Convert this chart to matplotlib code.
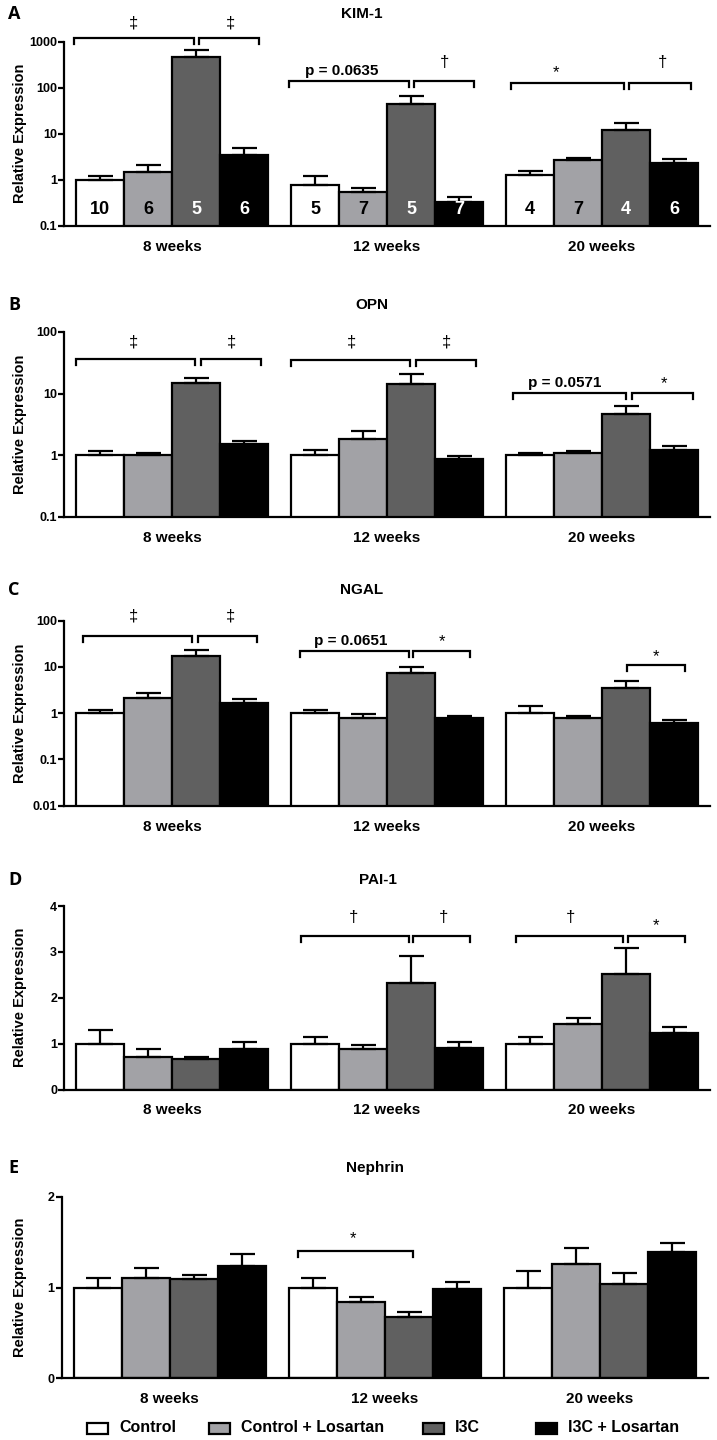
import matplotlib
matplotlib.use('Agg')
import matplotlib.pyplot as plt
import numpy as np
from matplotlib.patches import Rectangle
from matplotlib.ticker import FixedLocator, FixedFormatter, NullLocator

plt.rcParams['font.family'] = ['Liberation Sans', 'DejaVu Sans']

W, H = 717, 1440

groups = ['8 weeks', '12 weeks', '20 weeks']
series = ['Control', 'Control + Losartan', 'I3C', 'I3C + Losartan']
colors = ['#ffffff', '#a2a2a6', '#606060', '#000000']

# ---- data: mean and (mean + error) per group x series ----
kim1_mean = [[1.0, 1.47, 467, 3.5], [0.78, 0.53, 43.5, 0.32], [1.28, 2.62, 12.1, 2.26]]
kim1_top = [[1.18, 2.04, 650, 4.85], [1.22, 0.66, 65.8, 0.42], [1.51, 2.94, 16.9, 2.85]]
kim1_n = [[10, 6, 5, 6], [5, 7, 5, 7], [4, 7, 4, 6]]

opn_mean = [[1.0, 1.0, 15.1, 1.53], [1.0, 1.82, 14.2, 0.88], [1.0, 1.09, 4.62, 1.24]]
opn_top = [[1.16, 1.1, 17.9, 1.71], [1.2, 2.45, 21.0, 0.96], [1.09, 1.17, 6.3, 1.4]]

ngal_mean = [[1.0, 2.15, 17.3, 1.65], [1.0, 0.8, 7.4, 0.77], [1.0, 0.77, 3.55, 0.62]]
ngal_top = [[1.2, 2.77, 23.0, 1.98], [1.2, 0.94, 10.2, 0.86], [1.4, 0.89, 4.96, 0.72]]

pai1_mean = [[1.0, 0.705, 0.66, 0.89], [1.0, 0.88, 2.33, 0.91], [1.0, 1.42, 2.51, 1.23]]
pai1_top = [[1.29, 0.88, 0.71, 1.03], [1.15, 0.97, 2.92, 1.04], [1.15, 1.55, 3.08, 1.37]]

neph_mean = [[1.0, 1.106, 1.095, 1.24], [1.0, 0.837, 0.68, 0.98], [1.0, 1.26, 1.04, 1.39]]
neph_top = [[1.1, 1.22, 1.14, 1.37], [1.1, 0.9, 0.73, 1.06], [1.18, 1.43, 1.16, 1.49]]

# significance annotations: (group, x0, x1, y_line, label, label_x, label_y)
kim1_sig = [(0, -0.05, 2.45, 1220, '‡', 1.2, 2500), (0, 2.57, 3.82, 1220, '‡', 3.22, 2500),
            (1, -0.05, 2.45, 140, 'p = 0.0635', 1.05, 235), (1, 2.57, 3.82, 140, '†', 3.2, 360),
            (2, 0.1, 2.45, 128, '*', 1.05, 215), (2, 2.57, 3.85, 128, '†', 3.25, 360)]
opn_sig = [(0, 0.0, 2.47, 36, '‡', 1.2, 70), (0, 2.6, 3.85, 36, '‡', 3.23, 70),
           (1, 0.0, 2.47, 35, '‡', 1.25, 68), (1, 2.6, 3.85, 35, '‡', 3.23, 68),
           (2, 0.15, 2.5, 10.2, 'p = 0.0571', 1.22, 15.0), (2, 2.63, 3.9, 10.2, '*', 3.3, 14.5)]
ngal_sig = [(0, 0.15, 2.42, 47, '‡', 1.2, 125), (0, 2.55, 3.78, 47, '‡', 3.22, 125),
            (1, 0.18, 2.45, 22, 'p = 0.0651', 1.25, 36), (1, 2.55, 3.72, 22, '*', 3.15, 36),
            (2, 2.52, 3.72, 10.9, '*', 3.13, 17)]
pai1_sig = [(1, 0.2, 2.45, 3.35, '†', 1.3, 3.75), (1, 2.55, 3.72, 3.35, '†', 3.17, 3.75),
            (2, 0.2, 2.43, 3.35, '†', 1.35, 3.75), (2, 2.53, 3.72, 3.35, '*', 3.12, 3.58)]
neph_sig = [(1, 0.2, 2.6, 1.40, '*', 1.35, 1.54)]

kim1_ticks = [0.1, 1, 10, 100, 1000]
opn_ticks = [0.1, 1, 10, 100]
ngal_ticks = [0.01, 0.1, 1, 10, 100]
pai1_ticks = [0, 1, 2, 3, 4]
neph_ticks = [0, 1, 2]

panels = [
    dict(letter='A', title='KIM-1', mean=kim1_mean, top=kim1_top, sig=kim1_sig, log=True,
         ticks=kim1_ticks, ylim=(0.1, 1000), box=(41.7, 225.7), ty=14, tx=362, dx=0, n=kim1_n),
    dict(letter='B', title='OPN', mean=opn_mean, top=opn_top, sig=opn_sig, log=True,
         ticks=opn_ticks, ylim=(0.1, 100), box=(332, 517), ty=305, tx=372, dx=0),
    dict(letter='C', title='NGAL', mean=ngal_mean, top=ngal_top, sig=ngal_sig, log=True,
         ticks=ngal_ticks, ylim=(0.01, 100), box=(620.7, 805.7), ty=590, tx=362, dx=0),
    dict(letter='D', title='PAI-1', mean=pai1_mean, top=pai1_top, sig=pai1_sig, log=False,
         ticks=pai1_ticks, ylim=(0, 4), box=(906, 1089.5), ty=880, tx=378, dx=0),
    dict(letter='E', title='Nephrin', mean=neph_mean, top=neph_top, sig=neph_sig, log=False,
         ticks=neph_ticks, ylim=(0, 2), box=(1196.7, 1378.3), ty=1168, tx=375, dx=-2.5),
]

fig = plt.figure(figsize=(W / 100, H / 100), dpi=100)

group_step = 4.48
offsets = np.arange(len(groups)) * group_step
ax_left_px, ax_right_px = 64, 710
bar0_px, bar_px = 76, 48
xmin = (ax_left_px - bar0_px) / bar_px
xmax = (ax_right_px - bar0_px) / bar_px
LW = 1.6


def fmt(v):
    return ('%g' % v)


for p in panels:
    top_px, bot_px = p['box']
    ax = fig.add_axes([(ax_left_px + p['dx']) / W, 1 - bot_px / H,
                       (ax_right_px - ax_left_px) / W, (bot_px - top_px) / H])
    if p['log']:
        ax.set_yscale('log')
    mean = np.array(p['mean'], dtype=float)
    top = np.array(p['top'], dtype=float)
    for s in range(4):
        x = offsets + s + 0.5
        ax.bar(x, mean[:, s], width=1.0, color=colors[s], edgecolor='black',
               linewidth=LW, zorder=2)
        ax.errorbar(x, mean[:, s], yerr=[np.zeros(3), top[:, s] - mean[:, s]], fmt='none',
                    ecolor='black', elinewidth=LW, capsize=9, capthick=LW, zorder=3)
    ax.set_xlim(xmin, xmax)
    ax.set_ylim(*p['ylim'])
    for sp in ['top', 'right']:
        ax.spines[sp].set_visible(False)
    for sp in ['left', 'bottom']:
        ax.spines[sp].set_linewidth(LW)
    ax.yaxis.set_major_locator(FixedLocator(p['ticks']))
    ax.yaxis.set_major_formatter(FixedFormatter([fmt(t) for t in p['ticks']]))
    ax.yaxis.set_minor_locator(NullLocator())
    ax.tick_params(axis='y', direction='out', length=4, width=LW, labelsize=9, pad=1)
    for lab in ax.get_yticklabels():
        lab.set_fontweight('bold')
    ax.set_xticks(offsets + 2.0)
    ax.set_xticklabels(groups, fontsize=11, fontweight='bold')
    ax.tick_params(axis='x', length=0, pad=10)
    ax.set_ylabel('Relative Expression', fontsize=10.5, fontweight='bold')
    ax.yaxis.set_label_coords((27 - ax_left_px - p['dx']) / (ax_right_px - ax_left_px), 0.5)

    # bar counts (panel A)
    if 'n' in p:
        for g in range(3):
            for s in range(4):
                ax.text(offsets[g] + s + 0.5, 0.23, str(p['n'][g][s]), ha='center',
                        va='center', fontsize=13, fontweight='bold',
                        color='black' if s < 2 else 'white', zorder=4)

    # significance brackets
    for (g, x0, x1, yl, lab, lx, ly) in p['sig']:
        xa, xb = offsets[g] + x0, offsets[g] + x1
        yd = ax.transData.transform([(xa, yl)])[0][1]
        yb = ax.transData.inverted().transform([(xa, yd - 6)])[0][1]
        ax.plot([xa, xa, xb, xb], [yb, yl, yl, yb], color='black', lw=LW, clip_on=False,
                solid_joinstyle='miter', zorder=5)
        fs = 11 if lab.startswith('p') else 12
        ax.text(offsets[g] + lx, ly, lab, ha='center', va='center', fontsize=fs,
                fontweight='bold' if lab.startswith('p') else 'normal')

    fig.text(8 / W, 1 - p['ty'] / H, p['letter'], fontsize=13, fontweight='bold',
             family=['Open Sans', 'DejaVu Sans'], ha='left', va='center')
    fig.text(p['tx'] / W, 1 - p['ty'] / H, p['title'], fontsize=11, fontweight='bold',
             ha='center', va='center')

# legend
leg_y = 1428
sq_x = [87, 209, 423, 536]
txt_x = [119, 241, 455, 568]
for s in range(4):
    fig.add_artist(Rectangle((sq_x[s] / W, 1 - (leg_y + 5.5) / H), 21 / W, 11 / H,
                             transform=fig.transFigure, facecolor=colors[s],
                             edgecolor='black', linewidth=LW))
    fig.text(txt_x[s] / W, 1 - leg_y / H, series[s], fontsize=11.5, fontweight='bold',
             ha='left', va='center')

fig.savefig('out.png', dpi=100, facecolor='white')
